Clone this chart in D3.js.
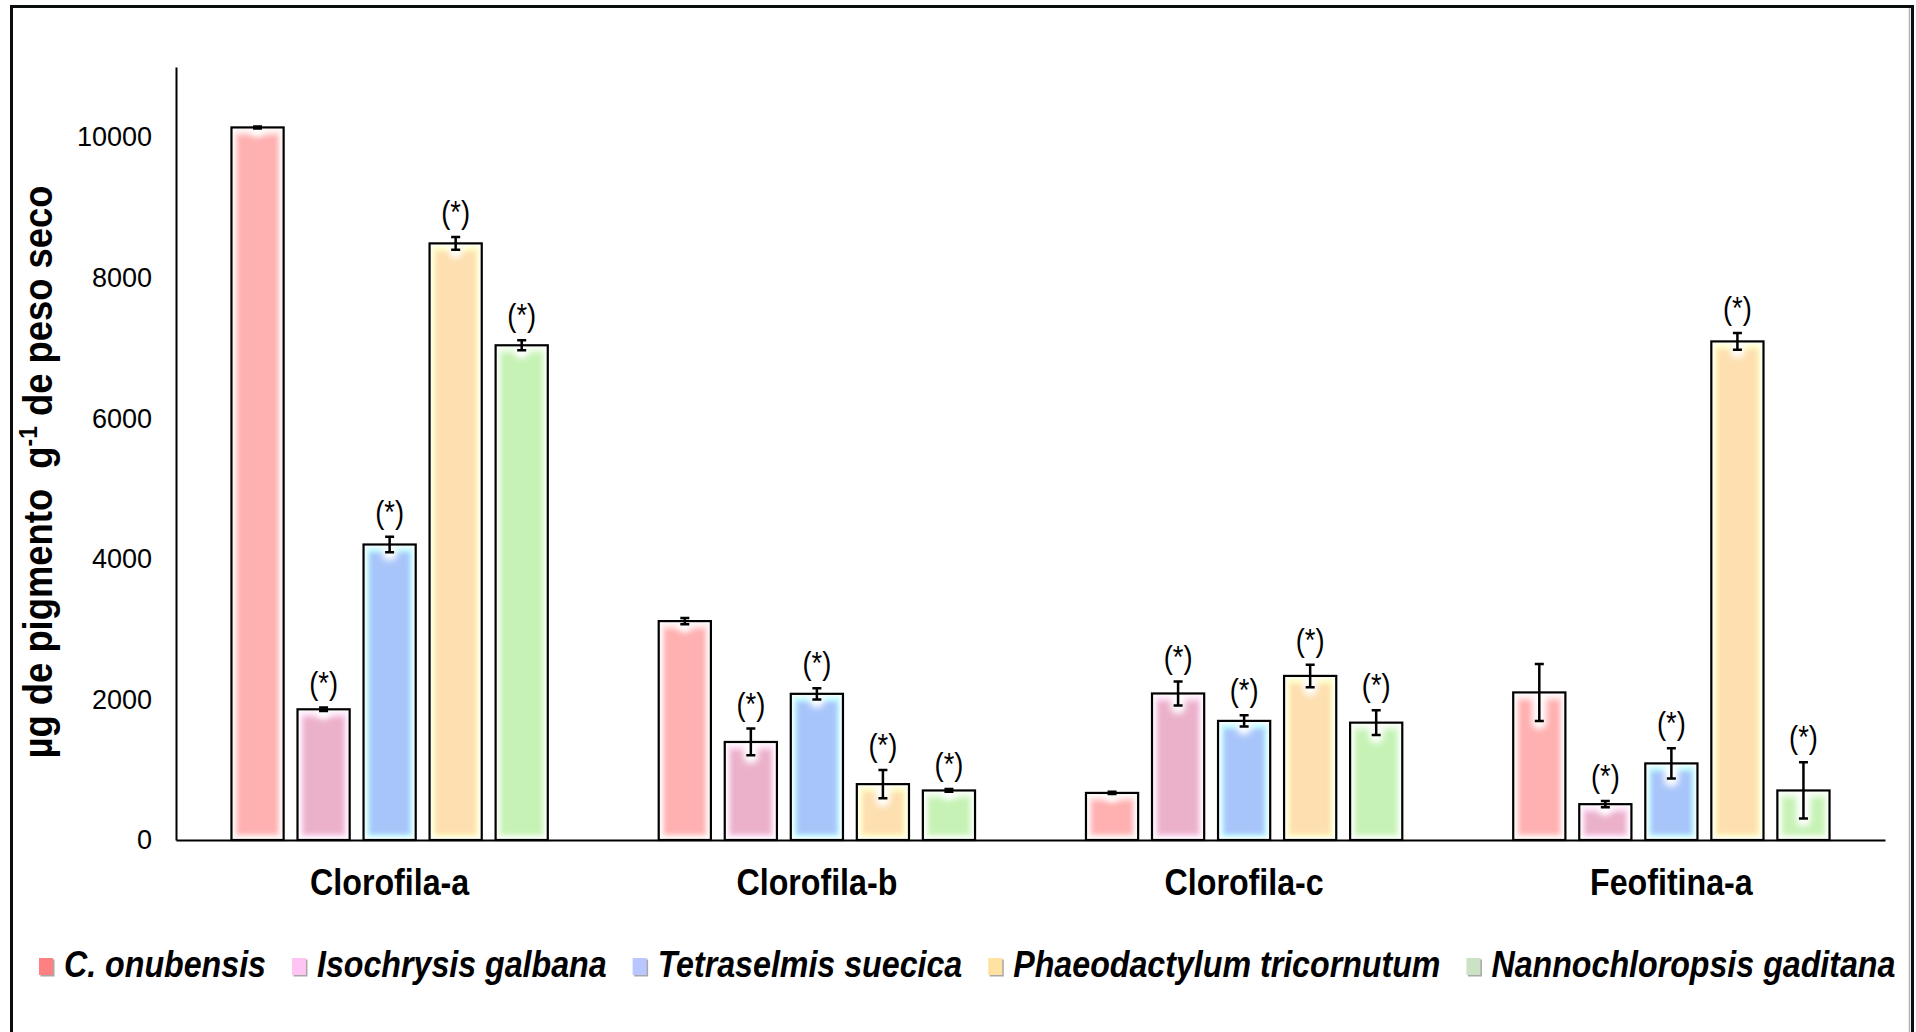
<!DOCTYPE html>
<html>
<head>
<meta charset="utf-8">
<script src="https://cdn.jsdelivr.net/npm/d3@7"></script>
<style>
    html, body { margin: 0; padding: 0; background: #fff; }
    svg { display: block; }
    text { font-family: "Liberation Sans", Arial, sans-serif; }
</style>
</head>
<body>
<div id="chart"></div>
<script>
'use strict';
var categories = ['Clorofila-a', 'Clorofila-b', 'Clorofila-c', 'Feofitina-a'];
var species = ['C. onubensis', 'Isochrysis galbana', 'Tetraselmis suecica', 'Phaeodactylum tricornutum', 'Nannochloropsis gaditana'];

// means, ug pigment / g dry weight (one value per pigment)
var onubensis = [10140, 3115, 670, 2100];
var isochrysis = [1860, 1395, 2085, 510];
var tetraselmis = [4205, 2080, 1695, 1090];
var phaeodactylum = [8490, 795, 2335, 7095];
var nannochloropsis = [7040, 705, 1670, 705];

// standard deviations
var onubensisErr = [15, 45, 15, 405];
var isochrysisErr = [25, 190, 170, 45];
var tetraselmisErr = [110, 80, 80, 215];
var phaeodactylumErr = [90, 200, 160, 120];
var nannochloropsisErr = [70, 20, 175, 400];

// 1 = (*) significant vs C. onubensis
var onubensisSig = [0, 0, 0, 0];
var isochrysisSig = [1, 1, 1, 1];
var tetraselmisSig = [1, 1, 1, 1];
var phaeodactylumSig = [1, 1, 1, 1];
var nannochloropsisSig = [1, 1, 1, 1];

var yTicks = [0, 2000, 4000, 6000, 8000, 10000];

var barFill = ['#FFB0B0', '#EBB1CA', '#A8C5FA', '#FDDFB0', '#C6F2B5'];
var barGlow = ['#FFE4E4', '#FDDDF4', '#C2FBFF', '#FFFDC4', '#E6FBDE'];
var legendFill = ['#FF8080', '#FFC4F2', '#BAC6FF', '#FFE2A2', '#CBE3C4'];

var values = [onubensis, isochrysis, tetraselmis, phaeodactylum, nannochloropsis];
var errors = [onubensisErr, isochrysisErr, tetraselmisErr, phaeodactylumErr, nannochloropsisErr];
var marks = [onubensisSig, isochrysisSig, tetraselmisSig, phaeodactylumSig, nannochloropsisSig];

var width = 1916,
    height = 1032,
    squeeze = 0.87; // the bold labels in the figure are narrow

var rows = categories.map(function (cat, i) {
    return {
        cat: cat,
        bars: species.map(function (sp, j) {
            return {sp: sp, idx: j, value: values[j][i], err: errors[j][i], sig: marks[j][i]};
        })
    };
});

var svg = d3.select('#chart').append('svg')
    .attr('width', width)
    .attr('height', height);

var defs = svg.append('defs');
defs.append('filter').attr('id', 'blur2')
    .attr('x', '-30%').attr('y', '-10%').attr('width', '160%').attr('height', '120%')
    .append('feGaussianBlur').attr('stdDeviation', 2);
defs.append('filter').attr('id', 'blur3')
    .attr('x', '-60%').attr('y', '-60%').attr('width', '220%').attr('height', '220%')
    .append('feGaussianBlur').attr('stdDeviation', 3);

// frame
svg.append('path')
    .attr('d', 'M1909.5,8V1032')
    .attr('stroke', '#b0b0b0').attr('stroke-width', 1.5).attr('fill', 'none');
svg.append('path')
    .attr('d', 'M11.5,1040V6.5H1912.5V1040')
    .attr('stroke', '#0b0f0b').attr('stroke-width', 3).attr('fill', 'none');

var x0 = d3.scaleBand().domain(categories).range([176, 1885]);
var x1 = d3.scaleBand().domain(species).range([0, x0.bandwidth()])
    .paddingInner(0.21).paddingOuter(0.84);
var y = d3.scaleLinear().domain([0, 11000]).range([840, 67]);

var groups = svg.selectAll('g.cat').data(rows).enter().append('g')
    .attr('class', 'cat')
    .attr('transform', function (d) {
        return 'translate(' + x0(d.cat) + ',0)';
    });

var bar = groups.selectAll('g.bar').data(function (d) { return d.bars; }).enter().append('g')
    .attr('class', 'bar');

var bw = x1.bandwidth();

bar.append('rect')
    .attr('x', function (d) { return x1(d.sp); })
    .attr('y', function (d) { return y(d.value); })
    .attr('width', bw)
    .attr('height', function (d) { return y(0) - y(d.value); })
    .attr('fill', '#fff');

bar.append('rect')
    .attr('x', function (d) { return x1(d.sp) + 3; })
    .attr('y', function (d) { return y(d.value) + 3; })
    .attr('width', bw - 6)
    .attr('height', function (d) { return y(0) - y(d.value) - 6; })
    .attr('fill', function (d) { return barGlow[d.idx]; })
    .attr('filter', 'url(#blur2)');

bar.append('rect')
    .attr('x', function (d) { return x1(d.sp) + 6; })
    .attr('y', function (d) { return y(d.value) + 8; })
    .attr('width', bw - 12)
    .attr('height', function (d) { return y(0) - y(d.value) - 14; })
    .attr('fill', function (d) { return barFill[d.idx]; })
    .attr('filter', 'url(#blur2)');

// white halo of the error bar that bites into the fill
bar.append('rect')
    .attr('x', function (d) { return x1(d.sp) + bw / 2 - 7; })
    .attr('y', function (d) { return y(d.value) - 2; })
    .attr('width', 14)
    .attr('height', function (d) { return y(d.value - d.err) - y(d.value) + 10; })
    .attr('rx', 6)
    .attr('fill', '#fff')
    .attr('filter', 'url(#blur3)');

bar.append('rect')
    .attr('x', function (d) { return x1(d.sp); })
    .attr('y', function (d) { return y(d.value); })
    .attr('width', bw)
    .attr('height', function (d) { return y(0) - y(d.value); })
    .attr('fill', 'none')
    .attr('stroke', '#000')
    .attr('stroke-width', 2.2);

bar.append('path')
    .attr('d', function (d) {
        var cx = x1(d.sp) + bw / 2,
            top = y(d.value + d.err),
            bot = y(d.value - d.err);
        return 'M' + (cx - 4.5) + ',' + top + 'H' + (cx + 4.5) +
            'M' + cx + ',' + top + 'V' + bot +
            'M' + (cx - 4.5) + ',' + bot + 'H' + (cx + 4.5);
    })
    .attr('stroke', '#000')
    .attr('stroke-width', 2.5)
    .attr('fill', 'none');

bar.filter(function (d) { return d.sig; }).append('text')
    .attr('transform', function (d) {
        return 'translate(' + (x1(d.sp) + bw / 2) + ',' + (y(d.value + d.err) - 14) + ') scale(0.88,1)';
    })
    .attr('text-anchor', 'middle')
    .attr('font-size', 31)
    .attr('fill', '#000')
    .text('(*)');

// axes
var yAxis = svg.append('g')
    .attr('transform', 'translate(176,0)')
    .call(d3.axisLeft(y).tickValues(yTicks).tickFormat(d3.format('d'))
        .tickSize(0).tickSizeOuter(0).tickPadding(24));
yAxis.attr('font-family', null).attr('font-size', 27);
yAxis.select('.domain').attr('stroke', '#000').attr('stroke-width', 2);
yAxis.selectAll('text').attr('fill', '#000');

var xAxis = svg.append('g')
    .attr('transform', 'translate(0,840)')
    .call(d3.axisBottom(x0).tickSize(0).tickSizeOuter(0).tickPadding(29));
xAxis.attr('font-family', null).attr('font-size', 37).attr('font-weight', 'bold');
xAxis.select('.domain').attr('stroke', '#000').attr('stroke-width', 2);
xAxis.selectAll('text').attr('fill', '#000').attr('transform', 'scale(' + squeeze + ',1)');

// y title
var title = svg.append('text')
    .attr('transform', 'translate(52,472) rotate(-90) scale(0.91,1)')
    .attr('text-anchor', 'middle')
    .attr('font-size', 40)
    .attr('font-weight', 'bold')
    .attr('fill', '#000');
title.append('tspan').text('\u00b5g de pigmento\u00a0 g');
title.append('tspan').attr('dy', -15).attr('font-size', 25).text('-1');
title.append('tspan').attr('dy', 15).text(' de peso seco');

// legend
var legend = svg.append('g').attr('transform', 'translate(39,0)');
var lx = 0;
species.forEach(function (sp, j) {
    var item = legend.append('g').attr('transform', 'translate(' + lx + ',0)');
    item.append('rect')
        .attr('x', 1.5).attr('y', 959.5).attr('width', 14).attr('height', 17)
        .attr('fill', '#a8a8a8');
    item.append('rect')
        .attr('x', 0).attr('y', 958).attr('width', 14).attr('height', 17)
        .attr('fill', legendFill[j]);
    var t = item.append('text')
        .attr('transform', 'translate(25,977) scale(' + squeeze + ',1)')
        .attr('font-size', 37)
        .attr('font-weight', 'bold')
        .attr('font-style', 'italic')
        .attr('fill', '#000')
        .text(sp);
    lx += 25 + t.node().getComputedTextLength() * squeeze + 26;
});
</script>
</body>
</html>
